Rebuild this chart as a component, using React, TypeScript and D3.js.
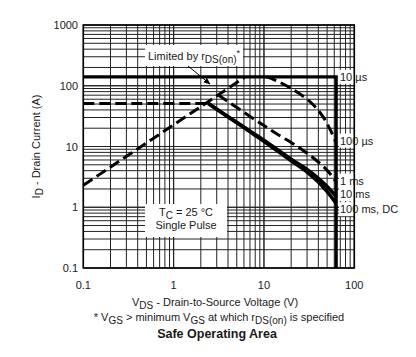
import React from "react";
import * as d3 from "d3";

type Pt = [number, number];

const xTicks = [0.1, 1, 10, 100];
const yTicks = [0.1, 1, 10, 100, 1000];
const xTickLabels = ["0.1", "1", "10", "100"];
const yTickLabels = ["0.1", "1", "10", "100", "1000"];

const pulse10us: Pt[] = [[0.1, 140], [63, 140], [63, 0.1]];
const rdsLimit: Pt[] = [[0.1, 2.3], [6.2, 140]];
const currentLimit: Pt[] = [[0.1, 51], [2.42, 51]];
const pulse100us: Pt[] = [[10.5, 140], [12, 132], [19.6, 92], [32.6, 54], [45, 31], [56, 17], [63, 11.5]];
const pulse1ms: Pt[] = [[3.1, 71], [8, 27.5], [13.4, 16.7], [27, 8.7], [42, 5.2], [52, 3.8], [63, 2.6]];
const pulse10ms: Pt[] = [[2.42, 51], [5, 25], [8, 15.8], [12, 10.5], [20, 6.2], [30, 4.2], [40, 3.0], [50, 2.2], [63, 1.5]];
const pulseDC: Pt[] = [[2.42, 51], [5, 24.5], [8, 15.2], [12, 10], [20, 5.8], [30, 3.8], [40, 2.6], [50, 1.8], [63, 1.15]];

const curveLabels = ["10 µs", "100 µs", "1 ms", "10 ms", "100 ms, DC"];

const W = 416;
const H = 357;
const L = 83.3, R = 354.3, T = 25, B = 268;
const FONT = "'Liberation Sans', Arial, Helvetica, sans-serif";
const INK = "#1a1a1a";

export default function App() {
  const x = d3.scaleLog().domain([0.1, 100]).range([L, R]);
  const y = d3.scaleLog().domain([0.1, 1000]).range([B, T]);

  const xGrid: number[] = [];
  for (let d = -1; d < 2; d++) for (let k = 1; k <= 10; k++) xGrid.push(k * Math.pow(10, d));
  const yGrid: number[] = [];
  for (let d = -1; d < 3; d++) for (let k = 1; k <= 10; k++) yGrid.push(k * Math.pow(10, d));

  const straight = d3.line<Pt>().x(d => x(d[0])).y(d => y(d[1]));
  const smooth = d3.line<Pt>().x(d => x(d[0])).y(d => y(d[1])).curve(d3.curveCatmullRom.alpha(0.5));

  const labelY = [y(140), y(12.5), y(2.75), y(1.65), y(0.93)];

  return (
    <svg width={W} height={H} style={{ position: "absolute", left: 0, top: 0, background: "#fff" }} fontFamily={FONT}>
      <rect x={0} y={0} width={W} height={H} fill="#fff" />
      {/* grid */}
      <g stroke="#222" strokeWidth={1}>
        {xGrid.map((v, i) => (
          <line key={"gx" + i} x1={x(v)} x2={x(v)} y1={T} y2={B} />
        ))}
        {yGrid.map((v, i) => (
          <line key={"gy" + i} x1={L} x2={R} y1={y(v)} y2={y(v)} />
        ))}
      </g>
      {/* white label boxes */}
      <rect x={145} y={45} width={98} height={21} fill="#fff" />
      <rect x={145} y={204} width={82} height={33} fill="#fff" />
      {labelY.map((ly, i) => (
        <rect key={"lb" + i} x={339} y={ly - 7} width={16} height={14} fill="#fff" />
      ))}
      {/* curves */}
      <path d={straight(rdsLimit) || ""} fill="none" stroke="#000" strokeWidth={3} strokeDasharray="11,5" />
      <path d={straight(currentLimit) || ""} fill="none" stroke="#000" strokeWidth={3} strokeDasharray="11,5" />
      <path d={smooth(pulse100us) || ""} fill="none" stroke="#000" strokeWidth={3} strokeDasharray="11,5" />
      <path d={smooth(pulse1ms) || ""} fill="none" stroke="#000" strokeWidth={3} strokeDasharray="11,5" />
      <path d={smooth(pulse10ms) || ""} fill="none" stroke="#000" strokeWidth={3.5} />
      <path d={smooth(pulseDC) || ""} fill="none" stroke="#000" strokeWidth={3.5} />
      <path d={straight(pulse10us) || ""} fill="none" stroke="#000" strokeWidth={3.2} />
      {/* frame */}
      <rect x={L} y={T} width={R - L} height={B - T} fill="none" stroke="#000" strokeWidth={1.6} />
      {/* arrow */}
      <defs>
        <marker id="ah" viewBox="0 0 10 10" refX={9} refY={5} markerWidth={7} markerHeight={7} orient="auto">
          <path d="M0,1 L10,5 L0,9 z" fill="#000" />
        </marker>
      </defs>
      <line x1={188} y1={66} x2={210} y2={84} stroke="#000" strokeWidth={1} markerEnd="url(#ah)" />
      {/* annotation texts */}
      <g fill={INK} fontSize={11}>
        <text x={148} y={59.5}>
          Limited by r<tspan fontSize={10} dy={3}>DS(on)</tspan><tspan dy={-7} fontSize={9}>*</tspan>
        </text>
        <text x={186} y={216} textAnchor="middle">
          T<tspan fontSize={10} dy={2.5}>C</tspan><tspan dy={-2.5}> = 25 °C</tspan>
        </text>
        <text x={186} y={229} textAnchor="middle">Single Pulse</text>
        {curveLabels.map((t, i) => (
          <text key={"cl" + i} x={340} y={labelY[i] + 4}>{t}</text>
        ))}
      </g>
      {/* tick labels */}
      <g fill={INK} fontSize={11}>
        {yTicks.map((v, i) => (
          <text key={"yt" + i} x={78} y={y(v) + 4} textAnchor="end">{yTickLabels[i]}</text>
        ))}
        {xTicks.map((v, i) => (
          <text key={"xt" + i} x={x(v)} y={289} textAnchor="middle">{xTickLabels[i]}</text>
        ))}
      </g>
      {/* axis titles */}
      <g fill={INK} fontSize={11}>
        <text x={215} y={306} textAnchor="middle">
          V<tspan fontSize={10} dy={2.5}>DS</tspan><tspan dy={-2.5}> - Drain-to-Source Voltage (V)</tspan>
        </text>
        <text x={219} y={321} textAnchor="middle">
          * V<tspan fontSize={10} dy={2.5}>GS</tspan><tspan dy={-2.5}> &gt; minimum V</tspan><tspan fontSize={10} dy={2.5}>GS</tspan><tspan dy={-2.5}> at which r</tspan><tspan fontSize={10} dy={2.5}>DS(on)</tspan><tspan dy={-2.5}> is specified</tspan>
        </text>
        <text x={217} y={338} textAnchor="middle" fontWeight="bold" fontSize={12.5}>Safe Operating Area</text>
        <text transform={`translate(40,${(T + B) / 2}) rotate(-90)`} textAnchor="middle">
          I<tspan fontSize={10} dy={2.5}>D</tspan><tspan dy={-2.5}> - Drain Current (A)</tspan>
        </text>
      </g>
    </svg>
  );
}
